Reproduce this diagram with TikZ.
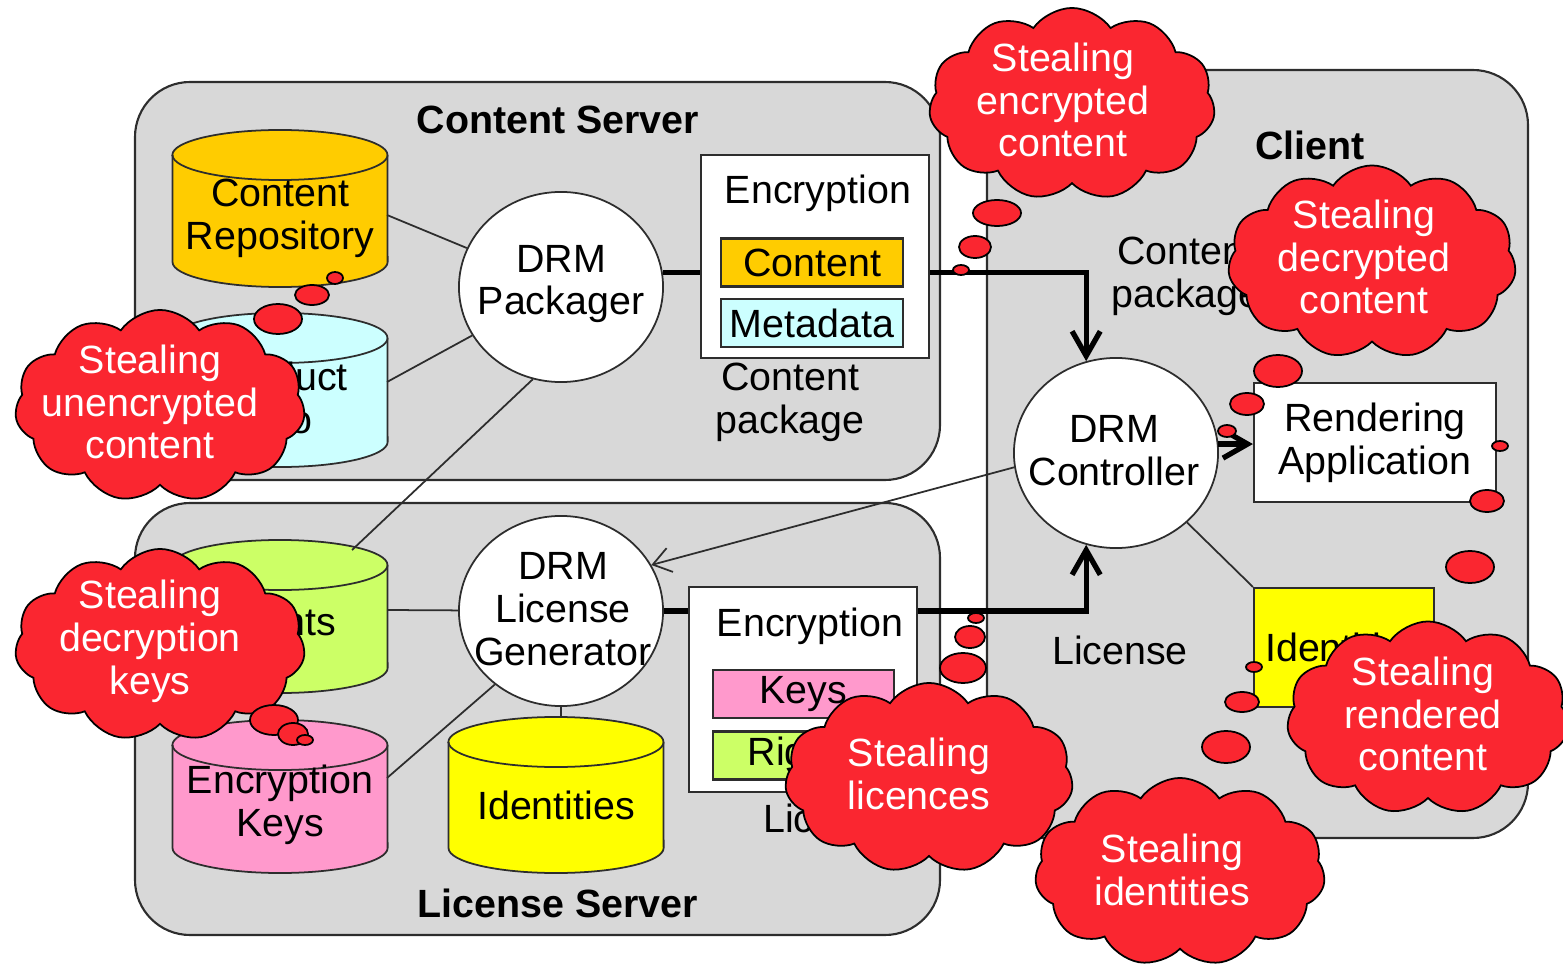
\documentclass[tikz,border=0pt]{standalone}
\usepackage{fontspec}
\setmainfont{Liberation Sans}
\usetikzlibrary{shapes.geometric,shapes.symbols,arrows.meta}

\definecolor{panelgray}{RGB}{216,216,216}
\definecolor{repogold}{RGB}{255,204,0}
\definecolor{infocyan}{RGB}{204,255,255}
\definecolor{rightsgreen}{RGB}{204,255,102}
\definecolor{keypink}{RGB}{255,153,204}
\definecolor{idyellow}{RGB}{255,255,0}
\definecolor{threatred}{RGB}{250,38,48}
\definecolor{edge}{RGB}{45,45,45}

% database drum: centre x, top rim y, bottom rim y, fill colour
\newcommand\drum[4]{%
  \filldraw[fill=#4, draw=edge, line width=0.5pt]
    ({#1-107.5},#2) -- ({#1-107.5},#3)
    arc[start angle=180, end angle=360, x radius=1.075cm, y radius=0.25cm]
    -- ({#1+107.5},#2)
    arc[start angle=0, end angle=180, x radius=1.075cm, y radius=0.25cm] -- cycle;
  \draw[draw=edge, line width=0.5pt] ({#1-107.5},#2)
    arc[start angle=180, end angle=360, x radius=1.075cm, y radius=0.25cm];
}

\begin{document}
\begin{tikzpicture}[x=0.01cm, y=-0.01cm,
  every node/.style={font=\fontsize{11.2}{12.2}\selectfont},
  panel/.style={fill=panelgray, draw=edge, line width=0.6pt, rounded corners=0.55cm},
  txt/.style={align=center, inner sep=0pt},
  title/.style={txt, font=\fontsize{11.2}{12.2}\selectfont\bfseries},
  drm/.style={ellipse, draw=edge, fill=white, line width=0.5pt,
    minimum width=2.04cm, minimum height=1.9cm, inner sep=0pt},
  pkgbox/.style={rectangle, draw=edge, fill=white, line width=0.6pt, inner sep=0pt},
  part/.style={rectangle, draw=edge, line width=0.6pt, minimum width=1.82cm,
    minimum height=0.48cm, inner sep=0pt},
  link/.style={draw=edge, line width=0.5pt},
  flow/.style={draw=black, line width=1.5pt},
  flowarrow/.style={flow, -{Straight Barb[length=7pt,width=8pt]}},
  req/.style={link, -{Straight Barb[length=5pt,width=7pt]}},
  threat/.style={cloud, cloud puffs=11, cloud puff arc=110, cloud ignores aspect,
    fill=threatred, draw=black, line width=0.5pt, inner sep=0pt},
  threattext/.style={txt, text=white},
  bubble/.style={fill=threatred, draw=black, line width=0.5pt}]

\useasboundingbox (0,0) rectangle (1563,973);

% ---- panels
\draw[panel] (987,70) rectangle (1528,838);
\draw[panel] (135,82) rectangle (940,480);
\draw[panel] (135,503) rectangle (940,935);

\node[title] (cs-title) at (558,120) {Content Server};
\node[title] (ls-title) at (558,903) {License Server};
\node[title] (cl-title) at (1310,145) {Client};

% ---- databases
\drum{280}{155}{262}{repogold}
\drum{280}{338}{442}{infocyan}
\drum{280}{565}{668}{rightsgreen}
\drum{280}{745}{848}{keypink}
\drum{556}{742}{848}{idyellow}

\node[txt] (crep) at (280,218) {Content\\Repository};
\node[txt] (pinfo) at (280,398) {Product\\Info};
\node[txt] (rights) at (280,625) {Rights};
\node[txt] (ekeys) at (280,805) {Encryption\\Keys};
\node[txt] (idb) at (556,805) {Identities};

\coordinate (crep-e) at (387,215);
\coordinate (pinfo-e) at (387,382);
\coordinate (rights-t) at (352,550);
\coordinate (rights-e) at (387,610);
\coordinate (ekeys-e) at (387,778);
\coordinate (idb-t) at (561,718);

% ---- DRM components
\node[drm] (pack) at (561,287) {};
\node[txt] (pack-t) at (561,284) {DRM\\Packager};
\node[drm] (gen) at (561,611) {};
\node[txt] (gen-t) at (563,609) {DRM\\License\\Generator};
\node[drm] (ctrl) at (1116,453) {};
\node[txt] (ctrl-t) at (1114,451) {DRM\\Controller};

% ---- content package
\node[pkgbox, minimum width=2.28cm, minimum height=2.03cm] (enc) at (815,256.5) {};
\node[txt] (enc-t) at (818,193) {Encryption};
\node[part, fill=repogold] (pc) at (812,262.5) {Content};
\node[part, fill=infocyan] (pm) at (812,323) {Metadata};
\node[txt] (cpkg) at (790,402) {Content\\package};

% ---- license
\node[pkgbox, minimum width=2.28cm, minimum height=2.05cm] (enc2) at (803,689.5) {};
\node[txt] (enc2-t) at (810,626) {Encryption};
\node[part, fill=keypink, minimum width=1.81cm] (lk) at (803.5,694) {Keys};
\node[part, fill=rightsgreen, minimum width=1.81cm] (lr) at (803.5,755.5) {Rights};
\node[txt] (lic) at (831,818) {License};

% ---- client side
\node[pkgbox, minimum width=2.42cm, minimum height=1.19cm, align=center] (rend) at (1375,442.5) {Rendering\\Application};
\node[rectangle, draw=edge, line width=0.6pt, fill=idyellow, minimum width=1.8cm,
  minimum height=1.19cm, inner sep=0pt] (idc) at (1344,647.5) {Identities};
\node[txt] (cpkg2) at (1186,276) {Content\\package};
\node[txt] (lic2) at (1120,650) {License};

% ---- thin links
\draw[link] (crep-e) -- (pack);
\draw[link] (pinfo-e) -- (pack);
\draw[link] (pack.253) -- (rights-t);
\draw[link] (rights-e) -- (gen);
\draw[link] (ekeys-e) -- (gen.228);
\draw[link] (gen.south) -- (gen.south |- idb-t);
\draw[link] (ctrl) -- (idc.north west);
\draw[req] (ctrl.188) -- (gen.27);

% ---- package and license flows
\draw[flow] (pack.8) -- (pack.8 -| enc.west);
\draw[flowarrow] (pack.8 -| enc.east) -| (ctrl.108);
\draw[flow] (gen.east) -- (gen.east -| enc2.west);
\draw[flowarrow] (gen.east -| enc2.east) -| (ctrl.252);
\draw[flowarrow] (ctrl.5) -- (ctrl.5 -| rend.west);

% ---- threats
\node[threat, minimum width=2.86cm, minimum height=1.92cm] (k1) at (1072,104) {};
\node[threattext] (k1-t) at (1063,100) {Stealing\\encrypted\\content};
\draw[bubble] (997,213) ellipse[x radius=0.24cm, y radius=0.13cm];
\draw[bubble] (975,247) ellipse[x radius=0.16cm, y radius=0.11cm];
\draw[bubble] (961,270) ellipse[x radius=0.08cm, y radius=0.05cm];

\node[threat, minimum width=2.88cm, minimum height=1.93cm] (k2) at (1372,262) {};
\node[threattext] (k2-t) at (1364,257) {Stealing\\decrypted\\content};
\draw[bubble] (1278,371) ellipse[x radius=0.24cm, y radius=0.16cm];
\draw[bubble] (1247,404) ellipse[x radius=0.17cm, y radius=0.11cm];
\draw[bubble] (1227,431) ellipse[x radius=0.09cm, y radius=0.06cm];

\node[threat, minimum width=2.82cm, minimum height=1.93cm] (k3) at (1428,718) {};
\node[threattext] (k3-t) at (1423,714) {Stealing\\rendered\\content};
\draw[bubble] (1500,446) ellipse[x radius=0.08cm, y radius=0.05cm];
\draw[bubble] (1487,501) ellipse[x radius=0.17cm, y radius=0.11cm];
\draw[bubble] (1470,567) ellipse[x radius=0.24cm, y radius=0.16cm];

\node[threat, minimum width=2.9cm, minimum height=1.88cm] (k4) at (1180,872) {};
\node[threattext] (k4-t) at (1172,870) {Stealing\\identities};
\draw[bubble] (1254,667) ellipse[x radius=0.08cm, y radius=0.05cm];
\draw[bubble] (1242,702) ellipse[x radius=0.17cm, y radius=0.10cm];
\draw[bubble] (1226,747) ellipse[x radius=0.24cm, y radius=0.16cm];

\node[threat, minimum width=2.88cm, minimum height=1.9cm] (k5) at (929,778) {};
\node[threattext] (k5-t) at (919,774) {Stealing\\licences};
\draw[bubble] (976,618) ellipse[x radius=0.08cm, y radius=0.05cm];
\draw[bubble] (970,637) ellipse[x radius=0.15cm, y radius=0.11cm];
\draw[bubble] (963,668) ellipse[x radius=0.23cm, y radius=0.15cm];

\draw[bubble] (335,278) ellipse[x radius=0.08cm, y radius=0.06cm];
\draw[bubble] (312,295) ellipse[x radius=0.17cm, y radius=0.10cm];
\draw[bubble] (278,319) ellipse[x radius=0.24cm, y radius=0.15cm];
\node[threat, minimum width=2.9cm, minimum height=1.92cm] (k6) at (160,406) {};
\node[threattext] (k6-t) at (150,402) {Stealing\\unencrypted\\content};

\node[threat, minimum width=2.9cm, minimum height=1.92cm] (k7) at (160,645) {};
\node[threattext] (k7-t) at (150,641) {Stealing\\decryption\\keys};
\draw[bubble] (274,720) ellipse[x radius=0.24cm, y radius=0.15cm];
\draw[bubble] (293,734) ellipse[x radius=0.15cm, y radius=0.11cm];
\draw[bubble] (305,740) ellipse[x radius=0.08cm, y radius=0.05cm];

\end{tikzpicture}
\end{document}
